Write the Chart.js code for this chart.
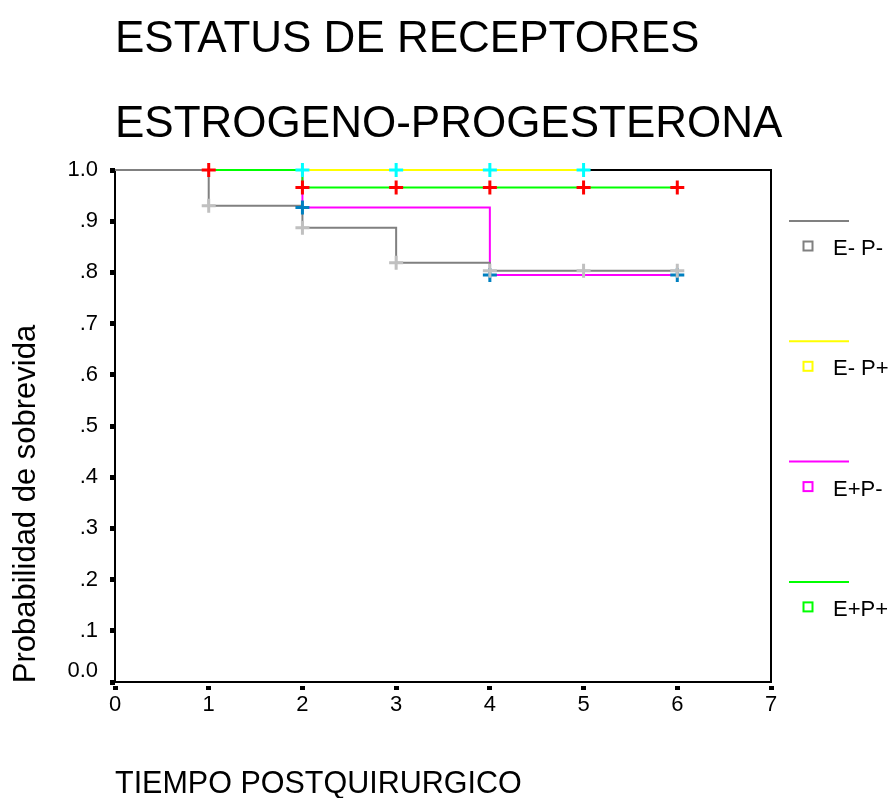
<!DOCTYPE html>
<html>
<head>
<meta charset="utf-8">
<script src="https://cdn.jsdelivr.net/npm/chart.js@4/dist/chart.umd.min.js"></script>
<style>
  html, body { margin: 0; padding: 0; background: #ffffff; }
  #wrap { width: 890px; height: 798px; }
</style>
</head>
<body>
<div id="wrap"><canvas id="km" width="890" height="798"></canvas></div>
<script>
// Text
const titleLines = ['ESTATUS DE RECEPTORES', 'ESTROGENO-PROGESTERONA'];
const xTitle = 'TIEMPO POSTQUIRURGICO';
const yTitle = 'Probabilidad de sobrevida';
const groupNames = ['E- P-', 'E- P+', 'E+P-', 'E+P+'];
const yTickLabels = ['0.0', '.1', '.2', '.3', '.4', '.5', '.6', '.7', '.8', '.9', '1.0'];

// Kaplan-Meier steps (time, cumulative survival) and censored cases per group
const enpnTime = [0, 1, 2, 3, 4, 6];
const enpnSurv = [1, 0.930, 0.887, 0.819, 0.803, 0.803];
const enpnCensTime = [1, 2, 3, 4, 5, 6];
const enpnCensSurv = [0.930, 0.887, 0.819, 0.803, 0.803, 0.803];

const enppTime = [0, 5];
const enppSurv = [1, 1];
const enppCensTime = [2, 3, 4, 5];
const enppCensSurv = [1, 1, 1, 1];

const eppnTime = [0, 2, 4, 6];
const eppnSurv = [1, 0.927, 0.795, 0.795];
const eppnCensTime = [2, 4, 6];
const eppnCensSurv = [0.927, 0.795, 0.795];

const epppTime = [0, 2, 6];
const epppSurv = [1, 0.966, 0.966];
const epppCensTime = [1, 2, 3, 4, 5, 6];
const epppCensSurv = [1, 0.966, 0.966, 0.966, 0.966, 0.966];

const lineColors = ['#808080', '#ffff00', '#ff00ff', '#00ff00'];
const censColors = ['#c0c0c0', '#00ffff', '#0080c0', '#ff0000'];

const FONT = '"Liberation Sans", Arial, Helvetica, sans-serif';
Chart.defaults.font.family = FONT;
Chart.defaults.color = '#000000';

function pts(xs, ys) { return xs.map((x, i) => ({ x: x, y: ys[i] })); }

function curve(i, xs, ys, order) {
  return {
    type: 'line', label: groupNames[i], data: pts(xs, ys),
    borderColor: lineColors[i], borderWidth: 2, stepped: 'before',
    pointRadius: 0, fill: false, clip: false, order: order
  };
}
function censored(i, xs, ys, order) {
  return {
    type: 'scatter', label: groupNames[i] + ' censurado', data: pts(xs, ys),
    showLine: false, pointStyle: 'cross', pointRadius: 7, pointHoverRadius: 7,
    borderColor: censColors[i], backgroundColor: censColors[i], borderWidth: 3,
    clip: false, order: order
  };
}

// plot frame drawn under the curves
const framePlugin = {
  id: 'frame',
  beforeDatasetsDraw(chart) {
    const { ctx, chartArea: a } = chart;
    ctx.save();
    ctx.strokeStyle = '#000000';
    ctx.lineWidth = 2;
    ctx.strokeRect(a.left, a.top, a.right - a.left, a.bottom - a.top);
    ctx.restore();
  }
};

// title, vertical axis title and group key
const textPlugin = {
  id: 'texts',
  afterDraw(chart) {
    const { ctx } = chart;
    ctx.save();
    ctx.fillStyle = '#000000';
    ctx.textAlign = 'left';
    ctx.textBaseline = 'alphabetic';
    ctx.font = '44px ' + FONT;
    ctx.fillText(titleLines[0], 115, 52);
    ctx.fillText(titleLines[1], 115, 137);

    ctx.save();
    ctx.translate(35, 504);
    ctx.rotate(-Math.PI / 2);
    ctx.textAlign = 'center';
    ctx.font = '31px ' + FONT;
    ctx.fillText(yTitle, 0, 0);
    ctx.restore();

    ctx.font = '22px ' + FONT;
    ctx.textBaseline = 'middle';
    groupNames.forEach((name, i) => {
      const y0 = 221 + 120.3 * i;
      ctx.strokeStyle = lineColors[i];
      ctx.lineWidth = 2;
      ctx.beginPath();
      ctx.moveTo(789, y0);
      ctx.lineTo(849, y0);
      ctx.stroke();
      ctx.strokeRect(803.5, y0 + 20.5, 9, 9);
      ctx.fillStyle = '#000000';
      ctx.fillText(name, 833, y0 + 28);
    });
    ctx.restore();
  }
};

new Chart(document.getElementById('km'), {
  type: 'scatter',
  data: {
    datasets: [
      censored(0, enpnCensTime, enpnCensSurv, 0),
      censored(3, epppCensTime, epppCensSurv, 0),
      censored(2, eppnCensTime, eppnCensSurv, 0),
      censored(1, enppCensTime, enppCensSurv, 0),
      curve(0, enpnTime, enpnSurv, 1),
      curve(3, epppTime, epppSurv, 2),
      curve(2, eppnTime, eppnSurv, 3),
      curve(1, enppTime, enppSurv, 4)
    ]
  },
  options: {
    responsive: false,
    devicePixelRatio: 1,
    animation: false,
    layout: { padding: { top: 170, right: 119, bottom: 0, left: 0 } },
    plugins: { legend: { display: false }, title: { display: false }, tooltip: { enabled: false } },
    scales: {
      x: {
        type: 'linear', min: 0, max: 7,
        border: { display: false },
        grid: {
          drawOnChartArea: false, drawTicks: true, tickLength: 8, tickWidth: 5,
          tickColor: '#000000', tickBorderDash: [0, 4, 4, 40]
        },
        ticks: { stepSize: 1, padding: 2, font: { size: 22 }, color: '#000000' },
        title: {
          display: true, text: xTitle, align: 'start',
          font: { size: 30.5, lineHeight: 1 }, padding: { top: 0, bottom: -2 }, color: '#000000'
        },
        afterFit(scale) { scale.height = 116; }
      },
      y: {
        type: 'linear', min: 0, max: 1,
        border: { display: false },
        grid: { drawOnChartArea: false, drawTicks: true, tickLength: 5, tickWidth: 5, tickColor: '#000000' },
        ticks: {
          stepSize: 0.1, padding: 12, color: '#000000',
          font: { size: 22, lineHeight: 1 },
          callback(value) {
            const idx = Math.round(value * 10);
            return idx === 0 ? [yTickLabels[0], ''] : yTickLabels[idx];
          }
        },
        afterFit(scale) { scale.width = 115; }
      }
    }
  },
  plugins: [framePlugin, textPlugin]
});
</script>
</body>
</html>
